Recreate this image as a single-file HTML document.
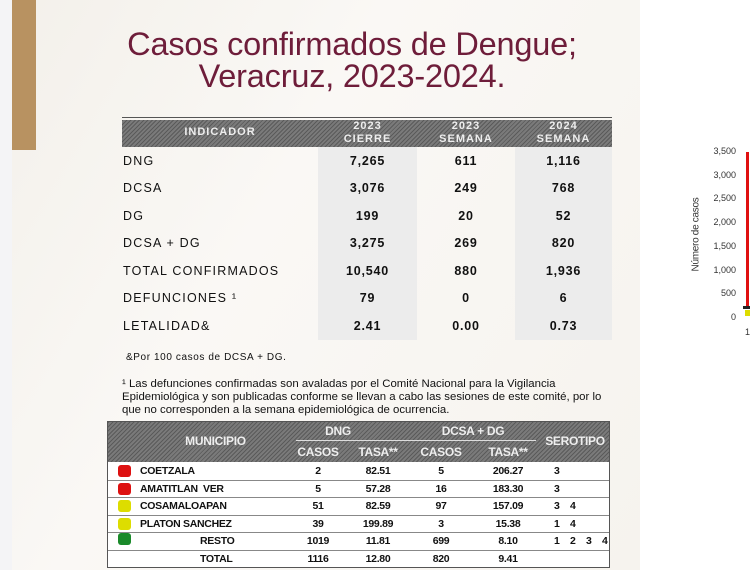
<!DOCTYPE html>
<html><head><meta charset="utf-8"><style>
body{margin:0;width:750px;height:570px;overflow:hidden;background:#fff;font-family:"Liberation Sans",sans-serif;position:relative}
.a{position:absolute;white-space:nowrap}
.hatch{background:repeating-linear-gradient(135deg,#5a5a5a 0 1px,#7a7a7a 1px 3px)}
.t1 td{font-size:12.5px;color:#111}
.n{font-weight:bold;text-align:center;font-size:13px;letter-spacing:0.8px}
.lab{letter-spacing:1.2px}
.t2{font-size:10.5px;letter-spacing:-0.3px}
.sq{position:absolute;left:10px;width:13px;height:12px;border-radius:3px}
.r{position:relative;height:16.5px;border-bottom:1px solid #888}
.r span{top:2px}
</style></head><body>
<div class="a" style="left:0;top:0;width:640px;height:570px;background:linear-gradient(120deg,#f3f0ea,#faf8f5 40%,#f6f3ee)"></div>
<div class="a" style="left:0;top:0;width:12px;height:570px;background:#f4f4f6"></div>
<div class="a" style="left:12px;top:0;width:24px;height:150px;background:#b89261"></div>
<div class="a" style="left:110px;top:28px;width:484px;text-align:center;color:#6e1d3a;font-size:32.5px;line-height:32px;letter-spacing:-0.2px">Casos confirmados de Dengue;<br>Veracruz, 2023-2024.</div>
<div class="a" style="left:122px;top:117px;width:490px;height:1px;background:#555"></div>
<div class="a" style="left:318px;top:147px;width:99px;height:193px;background:#ececec"></div>
<div class="a" style="left:515px;top:147px;width:97px;height:193px;background:#ececec"></div>
<div class="a hatch" style="left:122px;top:120px;width:490px;height:27px"></div>
<div class="a" style="left:122px;top:126px;width:196px;text-align:center;color:#eee;font-weight:bold;font-size:11px;letter-spacing:1px">INDICADOR</div>
<div class="a" style="left:318px;top:120px;width:99px;text-align:center;color:#eee;font-weight:bold;font-size:11px;line-height:13px;letter-spacing:1px">2023<br>CIERRE</div>
<div class="a" style="left:417px;top:120px;width:98px;text-align:center;color:#eee;font-weight:bold;font-size:11px;line-height:13px;letter-spacing:1px">2023<br>SEMANA</div>
<div class="a" style="left:515px;top:120px;width:97px;text-align:center;color:#eee;font-weight:bold;font-size:11px;line-height:13px;letter-spacing:1px">2024<br>SEMANA</div>
<table class="a t1" style="left:122px;top:147px;width:490px;border-collapse:collapse">
<colgroup><col style="width:196px"><col style="width:99px"><col style="width:98px"><col style="width:97px"></colgroup>
<tr style="height:27.5px"><td class="lab">DNG</td><td class="n">7,265</td><td class="n">611</td><td class="n">1,116</td></tr>
<tr style="height:27.5px"><td class="lab">DCSA</td><td class="n">3,076</td><td class="n">249</td><td class="n">768</td></tr>
<tr style="height:27.5px"><td class="lab">DG</td><td class="n">199</td><td class="n">20</td><td class="n">52</td></tr>
<tr style="height:27.5px"><td class="lab">DCSA + DG</td><td class="n">3,275</td><td class="n">269</td><td class="n">820</td></tr>
<tr style="height:27.5px"><td class="lab">TOTAL CONFIRMADOS</td><td class="n">10,540</td><td class="n">880</td><td class="n">1,936</td></tr>
<tr style="height:27.5px"><td class="lab">DEFUNCIONES ¹</td><td class="n">79</td><td class="n">0</td><td class="n">6</td></tr>
<tr style="height:27.5px"><td class="lab">LETALIDAD&amp;</td><td class="n">2.41</td><td class="n">0.00</td><td class="n">0.73</td></tr>
</table>
<div class="a" style="left:126px;top:352px;font-size:10px;letter-spacing:0.6px;color:#111">&amp;Por 100 casos de DCSA + DG.</div>
<div class="a" style="left:122px;top:378px;font-size:11.4px;line-height:12.8px;color:#111">¹ Las defunciones confirmadas son avaladas por el Comité Nacional para la Vigilancia<br>Epidemiológica y son publicadas conforme se llevan a cabo las sesiones de este comité, por lo<br>que no corresponden a la semana epidemiológica de ocurrencia.</div>
<div class="a t2" style="left:107px;top:421px;width:503px;height:147px;border:1px solid #555;box-sizing:border-box;background:#fff;font-weight:bold;color:#111">
<div class="a hatch" style="left:0;top:0;width:501px;height:40px"></div>
<div class="a" style="left:0;top:12px;width:215px;text-align:center;color:#eee;font-size:12px">MUNICIPIO</div>
<div class="a" style="left:185px;top:2px;width:90px;text-align:center;color:#eee;font-size:12px">DNG</div>
<div class="a" style="left:310px;top:2px;width:110px;text-align:center;color:#eee;font-size:12px">DCSA + DG</div>
<div class="a" style="left:188px;top:18px;width:240px;height:1px;background:#ddd"></div>
<div class="a" style="left:185px;top:23px;width:50px;text-align:center;color:#eee;font-size:12px">CASOS</div>
<div class="a" style="left:240px;top:23px;width:60px;text-align:center;color:#eee;font-size:12px">TASA**</div>
<div class="a" style="left:308px;top:23px;width:50px;text-align:center;color:#eee;font-size:12px">CASOS</div>
<div class="a" style="left:370px;top:23px;width:60px;text-align:center;color:#eee;font-size:12px">TASA**</div>
<div class="a" style="left:432px;top:12px;width:70px;text-align:center;color:#eee;font-size:12px">SEROTIPO</div>
<div class="a" style="left:0;top:41px;width:501px;height:105px">
<div class="r"><div class="sq" style="top:2px;background:#d11"></div><span class="a" style="left:32px">COETZALA</span><span class="a" style="left:185px;width:50px;text-align:center">2</span><span class="a" style="left:240px;width:60px;text-align:center">82.51</span><span class="a" style="left:308px;width:50px;text-align:center">5</span><span class="a" style="left:370px;width:60px;text-align:center">206.27</span><span class="a" style="left:446px">3</span></div>
<div class="r"><div class="sq" style="top:2px;background:#d11"></div><span class="a" style="left:32px">AMATITLAN&nbsp; VER</span><span class="a" style="left:185px;width:50px;text-align:center">5</span><span class="a" style="left:240px;width:60px;text-align:center">57.28</span><span class="a" style="left:308px;width:50px;text-align:center">16</span><span class="a" style="left:370px;width:60px;text-align:center">183.30</span><span class="a" style="left:446px">3</span></div>
<div class="r"><div class="sq" style="top:2px;background:#dd0"></div><span class="a" style="left:32px">COSAMALOAPAN</span><span class="a" style="left:185px;width:50px;text-align:center">51</span><span class="a" style="left:240px;width:60px;text-align:center">82.59</span><span class="a" style="left:308px;width:50px;text-align:center">97</span><span class="a" style="left:370px;width:60px;text-align:center">157.09</span><span class="a" style="left:446px">3&nbsp;&nbsp;&nbsp; 4</span></div>
<div class="r"><div class="sq" style="top:2px;background:#dd0"></div><span class="a" style="left:32px">PLATON SANCHEZ</span><span class="a" style="left:185px;width:50px;text-align:center">39</span><span class="a" style="left:240px;width:60px;text-align:center">199.89</span><span class="a" style="left:308px;width:50px;text-align:center">3</span><span class="a" style="left:370px;width:60px;text-align:center">15.38</span><span class="a" style="left:446px">1&nbsp;&nbsp;&nbsp; 4</span></div>
<div class="r"><div class="sq" style="top:0px;background:#1a8a2a"></div><span class="a" style="left:92px">RESTO</span><span class="a" style="left:185px;width:50px;text-align:center">1019</span><span class="a" style="left:240px;width:60px;text-align:center">11.81</span><span class="a" style="left:308px;width:50px;text-align:center">699</span><span class="a" style="left:370px;width:60px;text-align:center">8.10</span><span class="a" style="left:446px">1&nbsp;&nbsp;&nbsp; 2&nbsp;&nbsp;&nbsp; 3&nbsp;&nbsp;&nbsp; 4</span></div>
<div class="r" style="border:none"><span class="a" style="left:92px">TOTAL</span><span class="a" style="left:185px;width:50px;text-align:center">1116</span><span class="a" style="left:240px;width:60px;text-align:center">12.80</span><span class="a" style="left:308px;width:50px;text-align:center">820</span><span class="a" style="left:370px;width:60px;text-align:center">9.41</span></div>
</div></div>
<div class="a" style="left:690px;top:140px;width:46px;text-align:right;font-size:9px;line-height:23.7px;color:#333">3,500<br>3,000<br>2,500<br>2,000<br>1,500<br>1,000<br>500<br>0</div>
<div class="a" style="left:646px;top:229px;width:100px;transform:rotate(-90deg);font-size:10px;color:#333;text-align:center;letter-spacing:-0.3px">Número de casos</div>
<div class="a" style="left:746px;top:152px;width:3px;height:155px;background:#e01010"></div>
<div class="a" style="left:743px;top:306px;width:7px;height:3px;background:#222"></div>
<div class="a" style="left:745px;top:310px;width:5px;height:6px;background:#dd0"></div>
<div class="a" style="left:745px;top:327px;font-size:9px;color:#333">1</div>
</body></html>
